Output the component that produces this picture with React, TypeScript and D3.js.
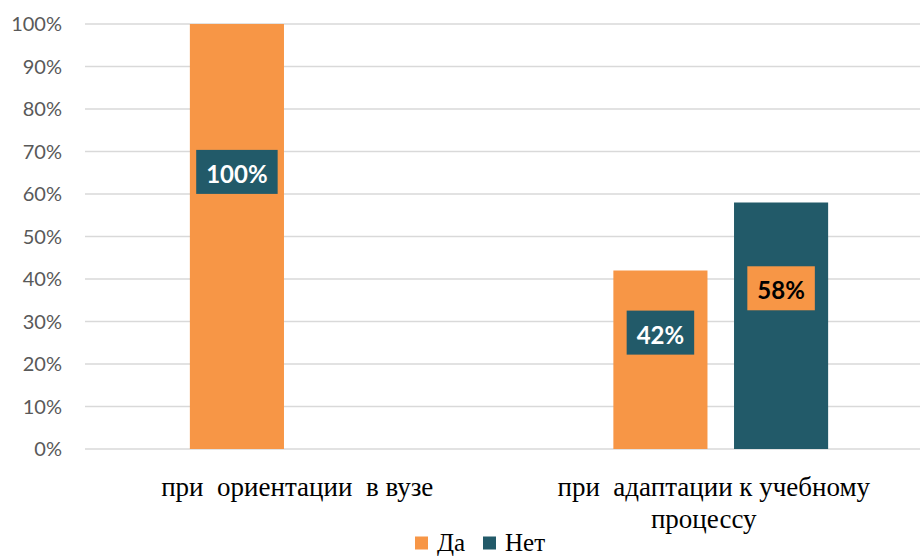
import React, { useEffect, useRef } from 'react';
import * as d3 from 'd3';

// chart data
const categories = ['при  ориентации  в вузе', 'при  адаптации к учебному процессу'];
const categoryLines = [['при  ориентации  в вузе'], ['при  адаптации к учебному', 'процессу']];
const seriesNames = ['Да', 'Нет'];
const daValues = [1.0, 0.42];
const netValues = [0, 0.58];
const yTicks = [0, 0.1, 0.2, 0.3, 0.4, 0.5, 0.6, 0.7, 0.8, 0.9, 1.0];

const ORANGE = '#f79646';
const TEAL = '#225a69';
const SERIF = 'Liberation Serif, Times New Roman, DejaVu Serif, serif';

const App: React.FC = () => {
  const svgRef = useRef<SVGSVGElement>(null);

  useEffect(() => {
    if (!svgRef.current) return;
    const svg = d3.select(svgRef.current);
    svg.selectAll('*').remove();

    const width = 920;

    const y = d3.scaleLinear().domain([0, 1]).range([449, 24]);

    const x0 = d3.scaleBand<string>()
      .domain(categories)
      .range([85.5, 932.5])
      .paddingInner(0)
      .paddingOuter(0);

    const x1 = d3.scaleBand<string>()
      .domain(seriesNames)
      .range([0, x0.bandwidth()])
      .paddingInner(0.22)
      .paddingOuter(0.865);

    // gridlines
    svg.append('g')
      .selectAll('line')
      .data(yTicks)
      .enter().append('line')
      .attr('x1', 85)
      .attr('x2', width)
      .attr('y1', d => y(d))
      .attr('y2', d => y(d))
      .style('stroke', '#d9d9d9')
      .style('stroke-width', 1.5);

    // y tick labels
    svg.append('g')
      .selectAll('text')
      .data(yTicks)
      .enter().append('text')
      .attr('x', 62)
      .attr('y', d => y(d))
      .attr('dy', '0.36em')
      .attr('text-anchor', 'end')
      .attr('font-family', 'Lato, sans-serif')
      .attr('font-size', 20)
      .attr('fill', '#595959')
      .text(d => d3.format('.0%')(d));

    const rows = categories.map((c, i) => ({
      cat: c,
      values: [
        { name: seriesNames[0], value: daValues[i] },
        { name: seriesNames[1], value: netValues[i] },
      ],
    }));

    const color = d3.scaleOrdinal<string>().domain(seriesNames).range([ORANGE, TEAL]);
    const boxFill = d3.scaleOrdinal<string>().domain(seriesNames).range([TEAL, ORANGE]);
    const labelFill = d3.scaleOrdinal<string>().domain(seriesNames).range(['#ffffff', '#000000']);

    const groups = svg.append('g')
      .selectAll('g')
      .data(rows)
      .enter().append('g')
      .attr('transform', d => `translate(${x0(d.cat)},0)`);

    groups.selectAll('rect')
      .data(d => d.values)
      .enter().append('rect')
      .attr('x', d => x1(d.name)!)
      .attr('width', x1.bandwidth())
      .attr('y', d => y(d.value))
      .attr('height', d => y(0) - y(d.value))
      .attr('fill', d => color(d.name));

    // data labels with boxes
    const labels = groups.selectAll('g.lbl')
      .data(d => d.values.filter(v => v.value > 0))
      .enter().append('g')
      .attr('class', 'lbl')
      .attr('transform', d => `translate(${x1(d.name)! + x1.bandwidth() / 2},${y(d.value * 0.652)})`);

    labels.each(function (d) {
      const g = d3.select(this);
      const text = g.append('text')
        .attr('x', 0)
        .attr('y', 11)
        .attr('text-anchor', 'middle')
        .attr('font-family', 'Lato, sans-serif')
        .attr('font-weight', 'bold')
        .attr('font-size', 24)
        .attr('fill', labelFill(d.name))
        .text(d3.format('.0%')(d.value));
      const w = (text.node() as SVGTextElement).getComputedTextLength() + 20;
      g.insert('rect', 'text')
        .attr('x', -w / 2)
        .attr('y', -22)
        .attr('width', w)
        .attr('height', 44)
        .attr('fill', boxFill(d.name));
    });

    // category labels
    const catOffsets = [[0], [-7, -17]];
    svg.append('g')
      .selectAll('text')
      .data(categories)
      .enter().append('text')
      .attr('text-anchor', 'middle')
      .attr('font-family', SERIF)
      .attr('font-size', 27)
      .attr('fill', '#000')
      .style('white-space', 'pre')
      .each(function (c, i) {
        const t = d3.select(this);
        categoryLines[i].forEach((line, j) => {
          t.append('tspan')
            .attr('x', x0(c)! + x0.bandwidth() / 2 + catOffsets[i][j])
            .attr('y', 496 + j * 32)
            .text(line);
        });
      });

    // legend
    const legendX = [415, 483];
    const legend = svg.append('g')
      .selectAll('g')
      .data(seriesNames)
      .enter().append('g')
      .attr('transform', (_, i) => `translate(${legendX[i]},0)`);

    legend.append('rect')
      .attr('x', 0)
      .attr('y', 536.5)
      .attr('width', 13)
      .attr('height', 13)
      .attr('fill', d => color(d));

    legend.append('text')
      .attr('x', 22)
      .attr('y', 551)
      .attr('font-family', SERIF)
      .attr('font-size', 25)
      .attr('fill', '#000')
      .text(d => d);
  }, []);

  return (
    <svg
      ref={svgRef}
      width={920}
      height={557}
      style={{ position: 'absolute', left: 0, top: 0, background: '#fff' }}
    ></svg>
  );
};

export default App;
